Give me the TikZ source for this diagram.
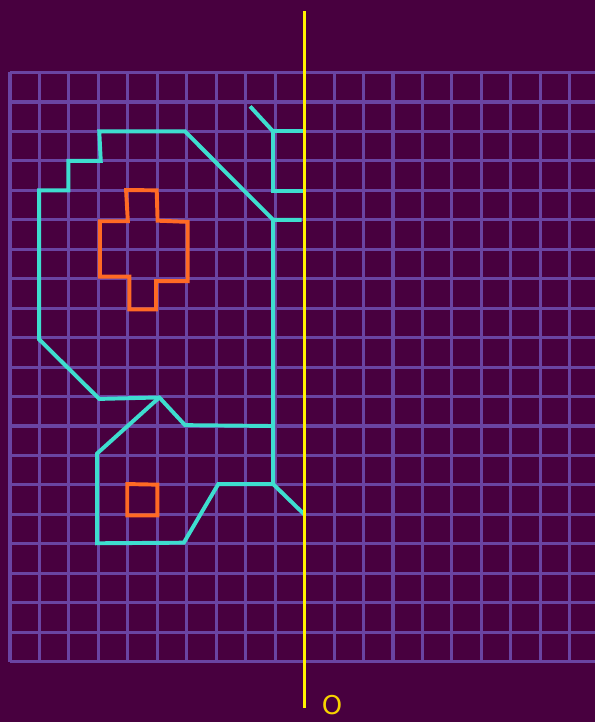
\documentclass[tikz,border=0pt]{standalone}
\usepackage{fontspec}
\newfontfamily\labelfont{DejaVu Sans}
\definecolor{bgcol}{HTML}{48003F}
\definecolor{gridcol}{HTML}{6A44A2}
\definecolor{cyancol}{HTML}{3EDDCF}
\definecolor{orangecol}{HTML}{FF6A24}
\definecolor{axiscol}{HTML}{FFF200}
\definecolor{labelcol}{HTML}{F7D200}
\tikzset{
  gridline/.style={draw=gridcol, line width=3pt},
  cyanline/.style={draw=cyancol, line width=3.8pt, line join=miter},
  orangeline/.style={draw=orangecol, line width=3.8pt, line join=miter},
  axisline/.style={draw=axiscol, line width=2.6pt},
  axislabel/.style={text=labelcol, font=\labelfont\fontsize{25}{25}\selectfont, inner sep=0pt}
}
\begin{document}
\begin{tikzpicture}[x=1cm,y=1cm]
\useasboundingbox (-0.3394,-22.047) rectangle (19.857,2.461);
\fill[bgcol] (-0.3394,-22.047) rectangle (19.857,2.461);
\begin{scope}
\clip (-0.3394,-22.047) rectangle (19.857,2.461);
\foreach \i in {0,...,20} {
  \draw[gridline] (\i,0) -- (\i,-20);
  \draw[gridline] (0,-\i) -- (20,-\i);
}
\end{scope}
% cyan figure
\draw[cyanline] (8.15,-1.15) -- (8.93,-2.0);
\draw[cyanline] (9.93,-2.0) -- (8.93,-2.0) -- (8.93,-4.02) -- (10,-4.02);
\draw[cyanline] (9.9,-5.0) -- (8.93,-5.0) -- (5.94,-2.0) -- (3.03,-2.0) -- (3.08,-3.0)
  -- (1.98,-3.0) -- (1.98,-4.0) -- (0.99,-4.0) -- (0.99,-9.06) -- (3.03,-11.08)
  -- (5.07,-11.03) -- (5.94,-11.97) -- (8.93,-12.0);
\draw[cyanline] (8.93,-5.0) -- (8.93,-13.97) -- (9.98,-14.99);
\draw[cyanline] (8.93,-13.97) -- (7.07,-13.97) -- (5.9,-15.96) -- (2.96,-15.98)
  -- (2.96,-12.93) -- (5.07,-11.03);
% orange shapes
\draw[orangeline] (3.94,-3.99) -- (4.98,-4.0) -- (5.01,-5.03) -- (6.03,-5.07)
  -- (6.03,-7.08) -- (4.96,-7.08) -- (4.96,-8.04) -- (4.05,-8.04) -- (4.05,-6.93)
  -- (3.05,-6.93) -- (3.05,-5.05) -- (4.0,-5.05) -- cycle;
\draw[orangeline] (3.98,-13.97) -- (5.0,-13.99) -- (5.0,-15.03) -- (3.98,-15.03) -- cycle;
% axis
\coordinate (axtop) at (10,2.08);
\coordinate (axbot) at (10,-21.57);
\draw[axisline] (axtop) -- (axbot);
\node[axislabel] (olabel) at (10.93,-21.47) {O};
\end{tikzpicture}
\end{document}
